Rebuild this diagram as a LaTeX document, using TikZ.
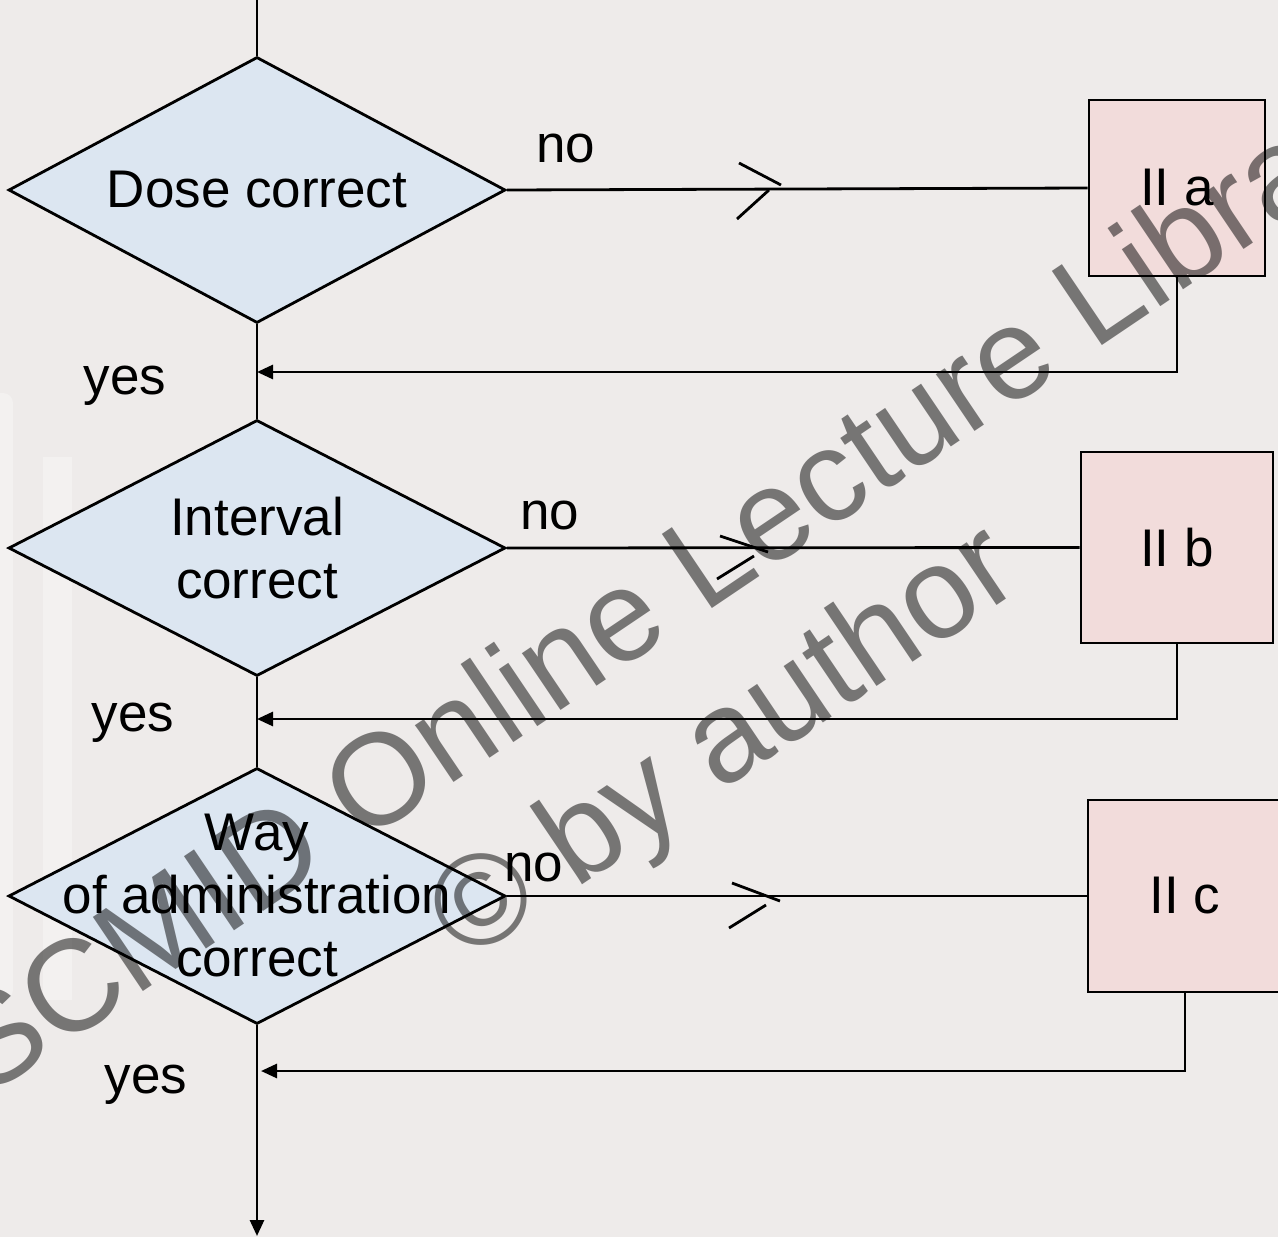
\documentclass[tikz,border=0pt]{standalone}
\usepackage{fontspec}
\setmainfont{Liberation Sans}
\usetikzlibrary{shapes.geometric,arrows.meta}
\definecolor{bg}{RGB}{238,235,234}
\definecolor{decfill}{RGB}{220,230,241}
\definecolor{boxfill}{RGB}{242,220,219}
\begin{document}
\begin{tikzpicture}[x=1pt,y=-1pt,line width=2.8pt,
  decision/.style={diamond,draw,fill=decfill,inner sep=0pt,
    minimum width=497pt,minimum height=256pt},
  action/.style={rectangle,draw,fill=boxfill,inner sep=0pt,
    font=\fontsize{53pt}{63pt}\selectfont},
  txt/.style={inner sep=0pt,align=center,
    font=\fontsize{53pt}{63pt}\selectfont},
  back/.style={-{Triangle[length=16pt,width=14pt]}},
  wm/.style={inner sep=0pt,anchor=base,rotate=34,text=black,text opacity=0.5,
    font=\fontsize{130pt}{156pt}\selectfont}]
  % canvas
  \fill[bg] (0,0) rectangle (1278,1237);
  \useasboundingbox (0,0) rectangle (1278,1237);
  % faint logo strokes at the left edge
  \fill[white,opacity=0.3,rounded corners=10pt] (-20,393) rectangle (13,1000);
  \fill[white,opacity=0.3] (43,457) rectangle (72,1000);

  % decisions
  \node[decision,minimum height=266pt] (d1) at (257,190) {};
  \node[txt] (t1) at (d1.center) {Dose correct};
  \node[decision] (d2) at (257,548) {};
  \node[txt] (t2) at (d2.center) {Interval\\correct};
  \node[decision] (d3) at (257,896) {};
  \node[txt] (t3) at (d3.center) {Way\\of administration\\correct};

  % corrective steps
  \node[action,minimum width=176pt,minimum height=176pt] (b1) at (1177,188) {II a};
  \node[action,minimum width=192pt,minimum height=191pt] (b2) at (1177,547.5) {II b};
  \node[action,minimum width=194pt,minimum height=192pt] (b3) at (1185,896) {II c};

  % main flow
  \coordinate (top) at (257,0);
  \coordinate (bottom) at (257,1236);
  \coordinate (m1) at (257,372);
  \coordinate (m2) at (257,719);
  \coordinate (m3) at (261,1071);
  \draw (top) -- (d1.north);
  \draw (d1.south) -- (d2.north);
  \draw (d2.south) -- (d3.north);
  \draw[back] (d3.south) -- (bottom);

  % "no" branches
  \draw (d1.east) -- (b1.west);
  \draw (d2.east) -- (b2.west);
  \draw (d3.east) -- (b3.west);
  % open arrow marks on the branches
  \draw (739,163) -- (781,185);
  \draw (737,219) -- (769,190);
  \draw (720,536) -- (768,552);
  \draw (717,579) -- (754,556);
  \draw (732,883) -- (780,901);
  \draw (729,928) -- (766,905);

  % returns to the main flow
  \draw[back] (b1.south) |- (m1);
  \draw[back] (b2.south) |- (m2);
  \draw[back] (b3.south) |- (m3);

  % labels
  \node[txt,anchor=base] (no1) at (566,162) {no};
  \node[txt,anchor=base] (no2) at (550,529) {no};
  \node[txt,anchor=base] (no3) at (534,881) {no};
  \node[txt,anchor=base] (yes1) at (125,394) {yes};
  \node[txt,anchor=base] (yes2) at (133,731) {yes};
  \node[txt,anchor=base] (yes3) at (146,1093) {yes};

  % watermark
  \node[wm] (wm1) at (704,614) {SCMID Online Lecture Library};
  \node[wm] (wm2) at (746,775) {© by author};
\end{tikzpicture}
\end{document}
